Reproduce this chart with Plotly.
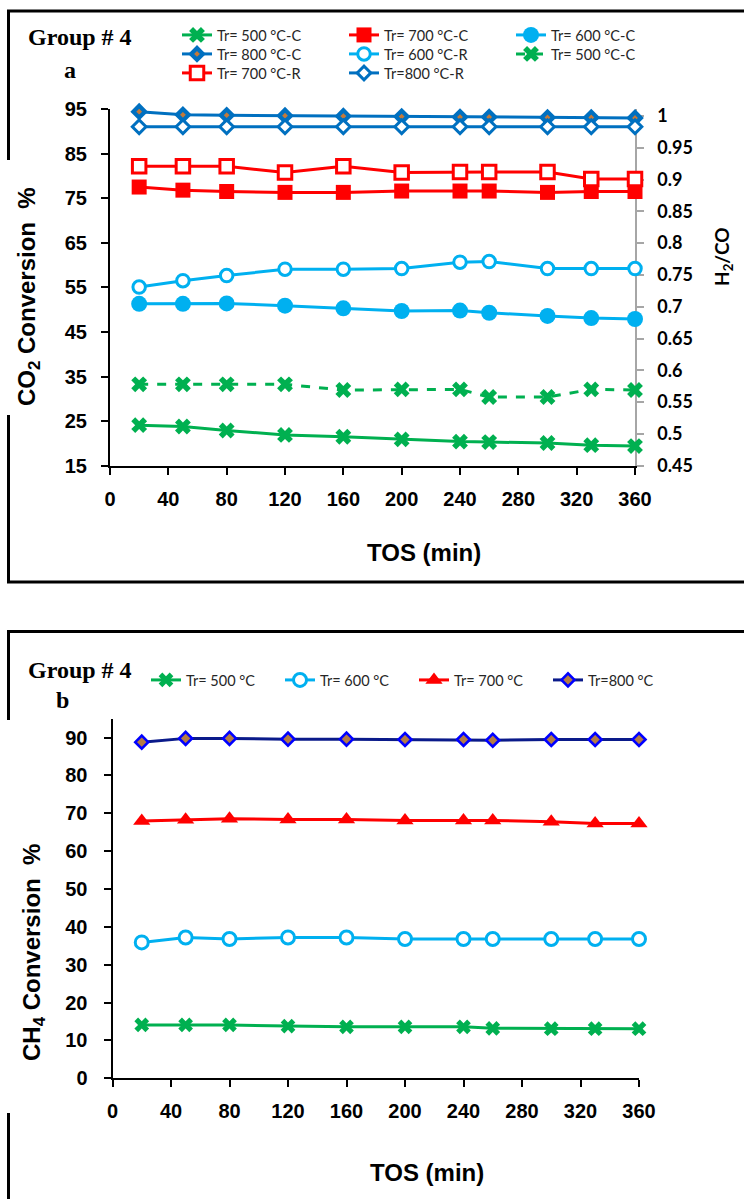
import plotly.graph_objects as go

# ---------------- data ----------------
TOS = [20, 50, 80, 120, 160, 200, 240, 260, 300, 330, 360]

# Panel a: CO2 conversion (%) - left axis
co2_500 = [24.1, 23.8, 22.9, 21.9, 21.5, 20.9, 20.4, 20.3, 20.1, 19.6, 19.4]
co2_600 = [51.3, 51.3, 51.4, 50.9, 50.3, 49.7, 49.8, 49.3, 48.6, 48.1, 47.9]
co2_700 = [77.5, 76.8, 76.5, 76.3, 76.3, 76.6, 76.6, 76.6, 76.3, 76.5, 76.5]
co2_800 = [94.4, 93.7, 93.6, 93.5, 93.4, 93.3, 93.2, 93.2, 93.1, 93.1, 93.0]

# Panel a: H2/CO ratio - right axis
r_500 = [0.578, 0.578, 0.578, 0.578, 0.569, 0.570, 0.570, 0.558, 0.558, 0.570, 0.569]
r_600 = [0.731, 0.741, 0.749, 0.759, 0.759, 0.760, 0.770, 0.771, 0.760, 0.760, 0.760]
r_700 = [0.921, 0.921, 0.921, 0.911, 0.921, 0.911, 0.912, 0.912, 0.912, 0.901, 0.901]
r_800 = [0.983, 0.983, 0.983, 0.983, 0.983, 0.983, 0.983, 0.983, 0.983, 0.983, 0.983]

# Panel b: CH4 conversion (%)
ch4_500 = [14.1, 14.1, 14.1, 13.8, 13.6, 13.6, 13.6, 13.2, 13.1, 13.1, 13.1]
ch4_600 = [35.9, 37.2, 36.8, 37.2, 37.2, 36.8, 36.8, 36.8, 36.8, 36.8, 36.8]
ch4_700 = [68.0, 68.3, 68.6, 68.4, 68.4, 68.1, 68.1, 68.1, 67.8, 67.3, 67.3]
ch4_800 = [88.8, 89.8, 89.8, 89.6, 89.6, 89.5, 89.5, 89.3, 89.5, 89.5, 89.5]

x_ticks = [0, 40, 80, 120, 160, 200, 240, 280, 320, 360]
co2_ticks = [15, 25, 35, 45, 55, 65, 75, 85, 95]
ratio_ticks = [0.45, 0.5, 0.55, 0.6, 0.65, 0.7, 0.75, 0.8, 0.85, 0.9, 0.95, 1.0]
ratio_ticktext = ["0.45", "0.5", "0.55", "0.6", "0.65", "0.7", "0.75", "0.8", "0.85", "0.9", "0.95", "1"]
ch4_ticks = [0, 10, 20, 30, 40, 50, 60, 70, 80, 90]

# ---------------- layout helpers ----------------
W, H = 744, 1199
def px(x):
    return x / W
def py(y):
    return 1 - y / H

GREEN = "#00B050"
RED = "#FF0000"
CYAN = "#00B0F0"
BLUE = "#0070C0"
ORANGE = "#C47A3A"
NAVY = "#0A1A8A"
BRIGHTBLUE = "#0000FF"
BROWN = "#B57B45"

ARIAL = "Liberation Sans, Arial, sans-serif"
CAL = "Lato, Carlito, sans-serif"

fig = go.Figure()

def add(x, y, name, color, symbol, size, fill=None, lw=3, mlw=0, mlc=None,
        dash="solid", xa="x", ya="y", legend="legend"):
    fig.add_trace(go.Scatter(
        x=x, y=y, name=name, mode="lines+markers",
        line=dict(color=color, width=lw, dash=dash),
        marker=dict(symbol=symbol, size=size, color=fill if fill else color,
                    line=dict(color=mlc if mlc else color, width=mlw)),
        xaxis=xa, yaxis=ya, legend=legend, cliponaxis=False,
    ))

# Panel a (legend rows as in the reference)
add(TOS, co2_500, "Tr= 500 °C-C", GREEN, "x", 14, legend="legend")
add(TOS, co2_700, "Tr= 700 °C-C", RED, "square", 15, legend="legend")
add(TOS, co2_600, "Tr= 600 °C-C", CYAN, "circle", 16, legend="legend")
add(TOS, co2_800, "Tr= 800 °C-C", BLUE, "diamond", 9, fill=ORANGE, mlw=4.2, mlc=BLUE,
    legend="legend3")
add(TOS, r_600, "Tr= 600 °C-R", CYAN, "circle", 12.5, fill="white", mlw=3, mlc=CYAN, ya="y2",
    legend="legend3")
add(TOS, r_500, "Tr= 500 °C-C", GREEN, "x", 14, dash="dash", ya="y2", legend="legend3")
add(TOS, r_700, "Tr= 700 °C-R", RED, "square", 13.5, fill="white", mlw=3, mlc=RED, ya="y2",
    legend="legend4")
add(TOS, r_800, "Tr=800 °C-R", BLUE, "diamond", 10.5, fill="white", mlw=3, mlc=BLUE, ya="y2",
    legend="legend4")

# Panel b
add(TOS, ch4_500, "Tr= 500 °C", GREEN, "x", 13, xa="x2", ya="y3", legend="legend2")
add(TOS, ch4_600, "Tr= 600 °C", CYAN, "circle", 13, fill="white", mlw=3, mlc=CYAN,
    xa="x2", ya="y3", legend="legend2")
add(TOS, ch4_700, "Tr= 700 °C", RED, "triangle-up", 15, xa="x2", ya="y3", legend="legend2")
add(TOS, ch4_800, "Tr=800 °C", NAVY, "diamond", 10, fill=BROWN, mlw=2.6, mlc=BRIGHTBLUE,
    xa="x2", ya="y3", legend="legend2")

tickfont = dict(family=ARIAL, size=20, color="black", weight="bold")

axis_common = dict(showgrid=False, zeroline=False, showline=True, linecolor="black",
                   linewidth=2, ticks="outside", ticklen=7, tickwidth=2,
                   tickcolor="black", layer="below traces", tickfont=tickfont)

legfont = dict(family=CAL, size=14.5, color="#262626")
def leg(x, y, ew):
    return dict(orientation="h", x=px(x), y=py(y), xanchor="left", yanchor="middle",
                entrywidth=ew, entrywidthmode="pixels", bgcolor="rgba(0,0,0,0)",
                font=legfont, traceorder="normal")

fig.update_layout(
    width=W, height=H,
    margin=dict(l=0, r=0, t=0, b=0, autoexpand=False),
    paper_bgcolor="white", plot_bgcolor="rgba(0,0,0,0)",
    xaxis=dict(domain=[px(110), px(635)], range=[0, 360], tickvals=x_ticks,
               anchor="y", ticklabelstandoff=7, **axis_common),
    yaxis=dict(domain=[py(465.7), py(109)], range=[15, 95], tickvals=co2_ticks,
               anchor="x", ticklabelstandoff=10, **axis_common),
    yaxis2=dict(overlaying="y", side="right", anchor="x", range=[0.45, 1.011],
                tickvals=ratio_ticks, ticktext=ratio_ticktext, showgrid=False,
                zeroline=False, showline=True, linecolor="#A6A6A6", linewidth=1.5,
                ticks="outside", ticklen=7, tickwidth=1.5, tickcolor="#A6A6A6",
                layer="below traces", ticklabelstandoff=10,
                tickfont=dict(family=CAL, size=18, color="black", weight="bold")),
    xaxis2=dict(domain=[px(112.5), px(639)], range=[0, 360], tickvals=x_ticks,
                anchor="y3", ticklabelstandoff=7, **axis_common),
    yaxis3=dict(domain=[py(1078.3), py(718.7)], range=[0, 95], tickvals=ch4_ticks,
                anchor="x2", ticklabelstandoff=12, **axis_common),
    legend=leg(177, 35, 122),
    legend3=leg(177, 54, 122),
    legend4=leg(177, 73, 122),
    legend2=leg(146, 680, 89),
    showlegend=True,
)

title_font = dict(family=ARIAL, size=24, color="black", weight="bold")
serif = dict(family="Liberation Serif, Times New Roman, serif", size=24, color="black",
             weight="bold")
ann = [
    dict(text="Group # 4", x=px(80), y=py(37), font=serif),
    dict(text="a", x=px(70), y=py(70), font=serif),
    dict(text="Group # 4", x=px(80), y=py(670), font=serif),
    dict(text="b", x=px(63), y=py(700), font=serif),
    dict(text="CO<sub>2</sub> Conversion\u00a0\u00a0%", x=px(28), y=py(297),
         textangle=-90, font=title_font),
    dict(text="H<sub>2</sub>/CO", x=px(723), y=py(257), textangle=-90,
         font=dict(family=CAL, size=19, color="black", weight="bold")),
    dict(text="TOS (min)", x=px(424), y=py(552), font=title_font),
    dict(text="CH<sub>4</sub> Conversion\u00a0\u00a0%", x=px(33), y=py(953),
         textangle=-90, font=title_font),
    dict(text="TOS (min)", x=px(427), y=py(1172), font=title_font),
]
for a in ann:
    a.update(xref="paper", yref="paper", showarrow=False, xanchor="center",
             yanchor="middle")
fig.update_layout(annotations=ann)

# panel frames (drawn as segments; the y-title boxes interrupt the left edge)
frame = [
    (7, 11, 744, 11), (8.5, 11, 8.5, 160), (8.5, 415, 8.5, 582), (7, 582, 744, 582),
    (7, 631.5, 744, 631.5), (8.5, 631.5, 8.5, 720), (8.5, 1113, 8.5, 1199),
]
shapes = []
for x0, y0, x1, y1 in frame:
    shapes.append(dict(type="line", xref="paper", yref="paper",
                       x0=px(x0), y0=py(y0), x1=px(x1), y1=py(y1),
                       line=dict(color="black", width=3)))
fig.update_layout(shapes=shapes)

fig.write_html("out.html")
